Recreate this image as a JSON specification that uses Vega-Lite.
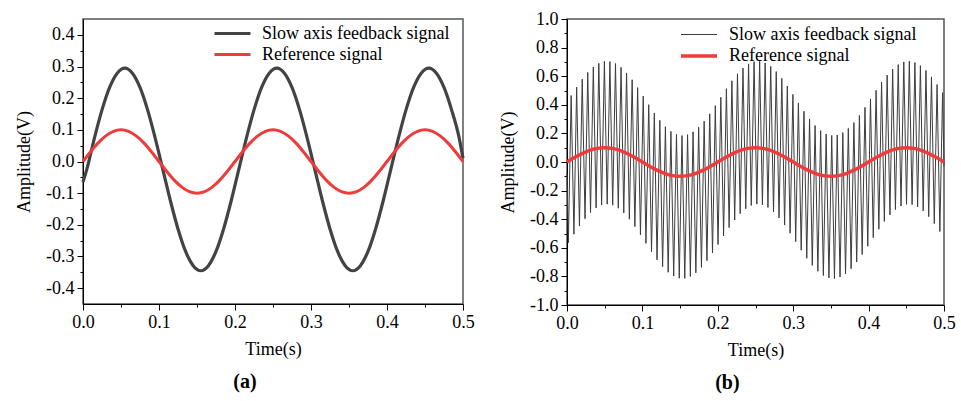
{
  "$schema": "https://vega.github.io/schema/vega-lite/v6.json",
  "padding": {"left": 14, "top": 9, "right": 5, "bottom": 5},
  "spacing": 23,
  "resolve": {"scale": {"color": "independent", "strokeWidth": "independent"}, "legend": {"color": "independent", "strokeWidth": "independent"}},
  "config": {
    "locale": {"number": {"decimal": ".", "thousands": ",", "grouping": [3], "currency": ["$", ""], "minus": "-"}},
    "font": "Liberation Serif",
    "view": {"stroke": "#555555", "strokeWidth": 1.5},
    "axis": {"grid": false, "domainColor": "#000000", "tickColor": "#000000", "labelColor": "#000000", "titleColor": "#000000", "labelFont": "Liberation Serif", "titleFont": "Liberation Serif", "labelFontSize": 18, "titleFontSize": 18, "titleFontWeight": "normal", "labelOverlap": false, "labelFlush": false, "labelPadding": 3, "tickWidth": 1, "domainWidth": 1},
    "legend": {"title": null, "orient": "none", "symbolType": "M-1,0H3", "symbolSize": 324, "symbolFillColor": "transparent", "labelFont": "Liberation Serif", "labelFontSize": 18, "labelColor": "#000000", "labelOffset": 28, "rowPadding": 1, "padding": 0, "labelLimit": 400}
  },
  "datasets": {
    "ref": [
      {"t":0,"v":0},{"t":0.01,"v":0.0309},{"t":0.02,"v":0.0588},{"t":0.03,"v":0.0809},{"t":0.04,"v":0.0951},{"t":0.05,"v":0.1},{"t":0.06,"v":0.0951},{"t":0.07,"v":0.0809},{"t":0.08,"v":0.0588},{"t":0.09,"v":0.0309},
      {"t":0.1,"v":0},{"t":0.11,"v":-0.0309},{"t":0.12,"v":-0.0588},{"t":0.13,"v":-0.0809},{"t":0.14,"v":-0.0951},{"t":0.15,"v":-0.1},{"t":0.16,"v":-0.0951},{"t":0.17,"v":-0.0809},{"t":0.18,"v":-0.0588},{"t":0.19,"v":-0.0309},
      {"t":0.2,"v":0},{"t":0.21,"v":0.0309},{"t":0.22,"v":0.0588},{"t":0.23,"v":0.0809},{"t":0.24,"v":0.0951},{"t":0.25,"v":0.1},{"t":0.26,"v":0.0951},{"t":0.27,"v":0.0809},{"t":0.28,"v":0.0588},{"t":0.29,"v":0.0309},
      {"t":0.3,"v":0},{"t":0.31,"v":-0.0309},{"t":0.32,"v":-0.0588},{"t":0.33,"v":-0.0809},{"t":0.34,"v":-0.0951},{"t":0.35,"v":-0.1},{"t":0.36,"v":-0.0951},{"t":0.37,"v":-0.0809},{"t":0.38,"v":-0.0588},{"t":0.39,"v":-0.0309},
      {"t":0.4,"v":0},{"t":0.41,"v":0.0309},{"t":0.42,"v":0.0588},{"t":0.43,"v":0.0809},{"t":0.44,"v":0.0951},{"t":0.45,"v":0.1},{"t":0.46,"v":0.0951},{"t":0.47,"v":0.0809},{"t":0.48,"v":0.0588},{"t":0.49,"v":0.0309},
      {"t":0.5,"v":0}
    ],
    "fa": [
      {"t":0,"v":-0.065},
      {"t":0.005,"v":-0.025},{"t":0.015,"v":0.074},{"t":0.025,"v":0.163},{"t":0.035,"v":0.234},{"t":0.045,"v":0.279},{"t":0.055,"v":0.295},{"t":0.065,"v":0.279},{"t":0.075,"v":0.234},{"t":0.085,"v":0.163},{"t":0.095,"v":0.074},
      {"t":0.105,"v":-0.025},{"t":0.115,"v":-0.124},{"t":0.125,"v":-0.213},{"t":0.135,"v":-0.284},{"t":0.145,"v":-0.329},{"t":0.155,"v":-0.345},{"t":0.165,"v":-0.329},{"t":0.175,"v":-0.284},{"t":0.185,"v":-0.213},{"t":0.195,"v":-0.124},
      {"t":0.205,"v":-0.025},{"t":0.215,"v":0.074},{"t":0.225,"v":0.163},{"t":0.235,"v":0.234},{"t":0.245,"v":0.279},{"t":0.255,"v":0.295},{"t":0.265,"v":0.279},{"t":0.275,"v":0.234},{"t":0.285,"v":0.163},{"t":0.295,"v":0.074},
      {"t":0.305,"v":-0.025},{"t":0.315,"v":-0.124},{"t":0.325,"v":-0.213},{"t":0.335,"v":-0.284},{"t":0.345,"v":-0.329},{"t":0.355,"v":-0.345},{"t":0.365,"v":-0.329},{"t":0.375,"v":-0.284},{"t":0.385,"v":-0.213},{"t":0.395,"v":-0.124},
      {"t":0.405,"v":-0.025},{"t":0.415,"v":0.074},{"t":0.425,"v":0.163},{"t":0.435,"v":0.234},{"t":0.445,"v":0.279},{"t":0.455,"v":0.295},{"t":0.465,"v":0.279},{"t":0.475,"v":0.234},{"t":0.485,"v":0.163},{"t":0.495,"v":0.074},
      {"t":0.5,"v":0.01}
    ],
    "fb": [
      {"t":0,"v":-0.08},
      {"t":0.0018,"v":-0.565},{"t":0.0055,"v":0.465},{"t":0.0092,"v":-0.505},{"t":0.0128,"v":0.524},{"t":0.0165,"v":-0.448},{"t":0.0202,"v":0.579},{"t":0.0239,"v":-0.397},{"t":0.0275,"v":0.626},{"t":0.0312,"v":-0.354},{"t":0.0349,"v":0.664},
      {"t":0.0386,"v":-0.321},{"t":0.0422,"v":0.690},{"t":0.0459,"v":-0.301},{"t":0.0496,"v":0.704},{"t":0.0533,"v":-0.295},{"t":0.0569,"v":0.703},{"t":0.0606,"v":-0.302},{"t":0.0643,"v":0.689},{"t":0.0680,"v":-0.323},{"t":0.0717,"v":0.662},
      {"t":0.0753,"v":-0.356},{"t":0.0790,"v":0.623},{"t":0.0827,"v":-0.400},{"t":0.0864,"v":0.575},{"t":0.0900,"v":-0.452},{"t":0.0937,"v":0.520},{"t":0.0974,"v":-0.509},{"t":0.1011,"v":0.461},{"t":0.1047,"v":-0.569},{"t":0.1084,"v":0.401},
      {"t":0.1121,"v":-0.628},{"t":0.1158,"v":0.343},{"t":0.1194,"v":-0.684},{"t":0.1231,"v":0.291},{"t":0.1268,"v":-0.732},{"t":0.1305,"v":0.247},{"t":0.1342,"v":-0.771},{"t":0.1378,"v":0.214},{"t":0.1415,"v":-0.798},{"t":0.1452,"v":0.193},
      {"t":0.1489,"v":-0.813},{"t":0.1525,"v":0.185},{"t":0.1562,"v":-0.814},{"t":0.1599,"v":0.191},{"t":0.1636,"v":-0.801},{"t":0.1672,"v":0.211},{"t":0.1709,"v":-0.775},{"t":0.1746,"v":0.243},{"t":0.1783,"v":-0.737},{"t":0.1819,"v":0.285},
      {"t":0.1856,"v":-0.690},{"t":0.1893,"v":0.337},{"t":0.1930,"v":-0.636},{"t":0.1967,"v":0.394},{"t":0.2003,"v":-0.577},{"t":0.2040,"v":0.453},{"t":0.2077,"v":-0.517},{"t":0.2114,"v":0.513},{"t":0.2150,"v":-0.459},{"t":0.2187,"v":0.568},
      {"t":0.2224,"v":-0.406},{"t":0.2261,"v":0.617},{"t":0.2297,"v":-0.361},{"t":0.2334,"v":0.657},{"t":0.2371,"v":-0.327},{"t":0.2408,"v":0.686},{"t":0.2444,"v":-0.304},{"t":0.2481,"v":0.702},{"t":0.2518,"v":-0.295},{"t":0.2555,"v":0.704},
      {"t":0.2592,"v":-0.300},{"t":0.2628,"v":0.693},{"t":0.2665,"v":-0.318},{"t":0.2702,"v":0.668},{"t":0.2739,"v":-0.349},{"t":0.2775,"v":0.632},{"t":0.2812,"v":-0.391},{"t":0.2849,"v":0.585},{"t":0.2886,"v":-0.441},{"t":0.2922,"v":0.531},
      {"t":0.2959,"v":-0.498},{"t":0.2996,"v":0.473},{"t":0.3033,"v":-0.557},{"t":0.3069,"v":0.413},{"t":0.3106,"v":-0.617},{"t":0.3143,"v":0.355},{"t":0.3180,"v":-0.673},{"t":0.3217,"v":0.301},{"t":0.3253,"v":-0.723},{"t":0.3290,"v":0.255},
      {"t":0.3327,"v":-0.764},{"t":0.3364,"v":0.220},{"t":0.3400,"v":-0.794},{"t":0.3437,"v":0.196},{"t":0.3474,"v":-0.811},{"t":0.3511,"v":0.186},{"t":0.3547,"v":-0.815},{"t":0.3584,"v":0.189},{"t":0.3621,"v":-0.804},{"t":0.3658,"v":0.206},
      {"t":0.3694,"v":-0.781},{"t":0.3731,"v":0.235},{"t":0.3768,"v":-0.746},{"t":0.3805,"v":0.276},{"t":0.3842,"v":-0.700},{"t":0.3878,"v":0.326},{"t":0.3915,"v":-0.647},{"t":0.3952,"v":0.382},{"t":0.3989,"v":-0.589},{"t":0.4025,"v":0.441},
      {"t":0.4062,"v":-0.529},{"t":0.4099,"v":0.501},{"t":0.4136,"v":-0.470},{"t":0.4172,"v":0.558},{"t":0.4209,"v":-0.416},{"t":0.4246,"v":0.608},{"t":0.4283,"v":-0.370},{"t":0.4319,"v":0.650},{"t":0.4356,"v":-0.333},{"t":0.4393,"v":0.681},
      {"t":0.4430,"v":-0.308},{"t":0.4467,"v":0.700},{"t":0.4503,"v":-0.296},{"t":0.4540,"v":0.705},{"t":0.4577,"v":-0.298},{"t":0.4614,"v":0.696},{"t":0.4650,"v":-0.313},{"t":0.4687,"v":0.674},{"t":0.4724,"v":-0.342},{"t":0.4761,"v":0.640},
      {"t":0.4797,"v":-0.382},{"t":0.4834,"v":0.595},{"t":0.4871,"v":-0.431},{"t":0.4908,"v":0.542},{"t":0.4945,"v":-0.486},{"t":0.4981,"v":0.485},
      {"t":0.5,"v":-0.03}
    ]
  },
  "hconcat": [
    {
      "width": 380,
      "height": 285,
      "title": {"text": "(a)", "orient": "bottom", "anchor": "middle", "frame": "bounds", "offset": 14, "fontSize": 20, "fontWeight": "bold", "font": "Liberation Serif", "color": "#000000"},
      "encoding": {
        "x": {"field": "t", "type": "quantitative", "scale": {"domain": [0, 0.5], "nice": false, "zero": false},
          "axis": {"title": "Time(s)", "values": [0, 0.05, 0.1, 0.15, 0.2, 0.25, 0.3, 0.35, 0.4, 0.45, 0.5],
            "labelExpr": "abs(datum.value*10 - round(datum.value*10)) < 0.001 ? format(datum.value, '.1f') : ''",
            "tickSize": {"condition": {"test": "abs(datum.value*10 - round(datum.value*10)) < 0.001", "value": 6}, "value": 3},
            "labelPadding": 3, "titlePadding": 9}},
        "y": {"field": "v", "type": "quantitative", "scale": {"domain": [-0.45, 0.45], "nice": false, "zero": false},
          "axis": {"title": "Amplitude(V)", "values": [-0.4, -0.35, -0.3, -0.25, -0.2, -0.15, -0.1, -0.05, 0, 0.05, 0.1, 0.15, 0.2, 0.25, 0.3, 0.35, 0.4],
            "labelExpr": "abs(datum.value*10 - round(datum.value*10)) < 0.001 ? format(datum.value, '.1f') : ''",
            "tickSize": {"condition": {"test": "abs(datum.value*10 - round(datum.value*10)) < 0.001", "value": 6}, "value": 3},
            "titlePadding": 12}}
      },
      "layer": [
        {
          "data": {"name": "fa"},
          "mark": {"type": "line", "strokeWidth": 3.2, "interpolate": "monotone"},
          "encoding": {
            "color": {"datum": "Slow axis feedback signal", "type": "nominal",
              "scale": {"domain": ["Slow axis feedback signal", "Reference signal"], "range": ["#434343", "#ef3b3b"]},
              "legend": {"legendX": 130, "legendY": 4, "symbolStrokeWidth": 3}}
          }
        },
        {
          "data": {"name": "ref"},
          "mark": {"type": "line", "strokeWidth": 3, "interpolate": "monotone"},
          "encoding": {
            "color": {"datum": "Reference signal", "type": "nominal"}
          }
        }
      ]
    },
    {
      "width": 377,
      "height": 286,
      "title": {"text": "(b)", "orient": "bottom", "anchor": "middle", "frame": "bounds", "offset": 14, "fontSize": 20, "fontWeight": "bold", "font": "Liberation Serif", "color": "#000000"},
      "encoding": {
        "x": {"field": "t", "type": "quantitative", "scale": {"domain": [0, 0.5], "nice": false, "zero": false},
          "axis": {"title": "Time(s)", "values": [0, 0.05, 0.1, 0.15, 0.2, 0.25, 0.3, 0.35, 0.4, 0.45, 0.5],
            "labelExpr": "abs(datum.value*10 - round(datum.value*10)) < 0.001 ? format(datum.value, '.1f') : ''",
            "tickSize": {"condition": {"test": "abs(datum.value*10 - round(datum.value*10)) < 0.001", "value": 6}, "value": 3},
            "labelPadding": 3, "titlePadding": 9}},
        "y": {"field": "v", "type": "quantitative", "scale": {"domain": [-1, 1], "nice": false, "zero": false},
          "axis": {"title": "Amplitude(V)", "values": [-1, -0.9, -0.8, -0.7, -0.6, -0.5, -0.4, -0.3, -0.2, -0.1, 0, 0.1, 0.2, 0.3, 0.4, 0.5, 0.6, 0.7, 0.8, 0.9, 1],
            "labelExpr": "abs(datum.value*5 - round(datum.value*5)) < 0.001 ? format(datum.value, '.1f') : ''",
            "tickSize": {"condition": {"test": "abs(datum.value*5 - round(datum.value*5)) < 0.001", "value": 6}, "value": 3},
            "titlePadding": 12}}
      },
      "layer": [
        {
          "data": {"name": "fb"},
          "mark": {"type": "line"},
          "encoding": {
            "color": {"datum": "Slow axis feedback signal", "type": "nominal",
              "scale": {"domain": ["Slow axis feedback signal", "Reference signal"], "range": ["#3d3d3d", "#ef3b3b"]},
              "legend": {"legendX": 112, "legendY": 6}},
            "strokeWidth": {"datum": "Slow axis feedback signal", "type": "nominal",
              "scale": {"domain": ["Slow axis feedback signal", "Reference signal"], "range": [1, 3.5]},
              "legend": {"legendX": 112, "legendY": 6}}
          }
        },
        {
          "data": {"name": "ref"},
          "mark": {"type": "line", "interpolate": "monotone"},
          "encoding": {
            "color": {"datum": "Reference signal", "type": "nominal"},
            "strokeWidth": {"datum": "Reference signal", "type": "nominal"}
          }
        }
      ]
    }
  ]
}
